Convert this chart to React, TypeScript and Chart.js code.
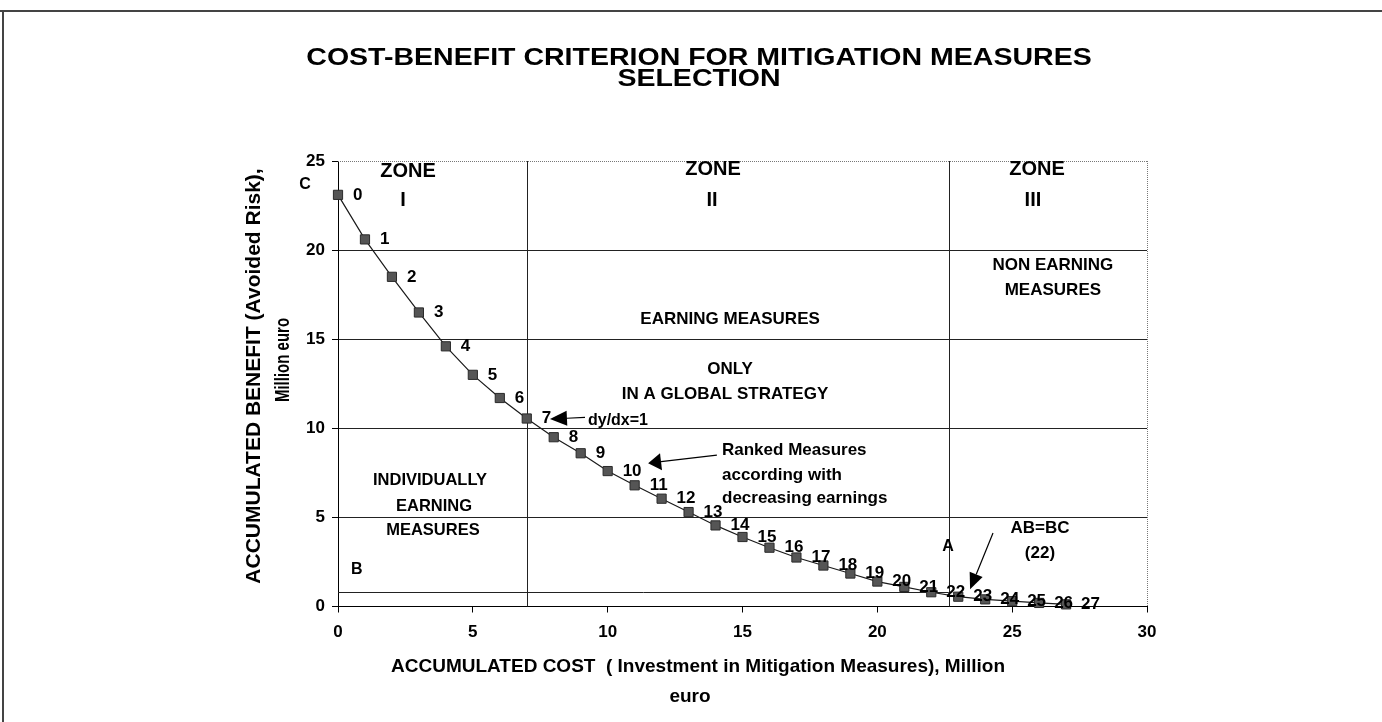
import React, { useEffect, useRef } from 'react';
import { Chart, registerables } from 'chart.js';

Chart.register(...registerables);

// ---- Data ----
const measureIds = ['0', '1', '2', '3', '4', '5', '6', '7', '8', '9', '10', '11', '12', '13', '14', '15', '16', '17', '18', '19', '20', '21', '22', '23', '24', '25', '26', '27'];
const accumulatedCost = [0, 1, 2, 3, 4, 5, 6, 7, 8, 9, 10, 11, 12, 13, 14, 15, 16, 17, 18, 19, 20, 21, 22, 23, 24, 25, 26, 27];
const accumulatedBenefit = [23.1, 20.6, 18.5, 16.5, 14.6, 13.0, 11.7, 10.55, 9.5, 8.6, 7.6, 6.8, 6.05, 5.3, 4.55, 3.9, 3.3, 2.75, 2.3, 1.85, 1.4, 1.1, 0.8, 0.55, 0.4, 0.3, 0.2, 0.12];
const xTickValues = [0, 5, 10, 15, 20, 25, 30];
const yTickValues = [0, 5, 10, 15, 20, 25];
const zoneBoundaries = [7, 22.65];
const lineBA = 0.8;

const titleLines = ['COST-BENEFIT CRITERION FOR MITIGATION MEASURES', 'SELECTION'];
const xTitleLines = ['ACCUMULATED COST  ( Investment in Mitigation Measures), Million', 'euro'];
const yTitleLines = ['ACCUMULATED BENEFIT (Avoided Risk),', 'Million euro'];

// annotation texts (data coordinates)
type Note = { text: string; x: number; y: number; size: number; align?: CanvasTextAlign };
const notes: Note[] = [
  { text: 'C', x: -1.22, y: 23.66, size: 16 },
  { text: 'B', x: 0.7, y: 2.05, size: 16 },
  { text: 'A', x: 22.62, y: 3.34, size: 16 },
  { text: 'ZONE', x: 2.6, y: 24.43, size: 20 },
  { text: 'I', x: 2.41, y: 22.8, size: 20 },
  { text: 'ZONE', x: 13.91, y: 24.55, size: 20 },
  { text: 'II', x: 13.87, y: 22.76, size: 20 },
  { text: 'ZONE', x: 25.92, y: 24.55, size: 20 },
  { text: 'III', x: 25.77, y: 22.81, size: 20 },
  { text: 'NON EARNING', x: 26.51, y: 19.16, size: 17 },
  { text: 'MEASURES', x: 26.51, y: 17.76, size: 17 },
  { text: 'EARNING MEASURES', x: 14.54, y: 16.13, size: 17 },
  { text: 'ONLY', x: 14.54, y: 13.33, size: 17 },
  { text: 'IN A GLOBAL STRATEGY', x: 14.35, y: 11.93, size: 17 },
  { text: 'dy/dx=1', x: 9.27, y: 10.41, size: 16, align: 'left' },
  { text: 'Ranked Measures', x: 14.24, y: 8.78, size: 17, align: 'left' },
  { text: 'according with', x: 14.24, y: 7.38, size: 17, align: 'left' },
  { text: 'decreasing earnings', x: 14.24, y: 6.09, size: 17, align: 'left' },
  { text: 'INDIVIDUALLY', x: 3.41, y: 7.1, size: 16.5 },
  { text: 'EARNING', x: 3.56, y: 5.64, size: 16.5 },
  { text: 'MEASURES', x: 3.52, y: 4.24, size: 16.5 },
  { text: 'AB=BC', x: 26.03, y: 4.41, size: 17 },
  { text: '(22)', x: 26.03, y: 3.0, size: 17 },
];

type Arrow = { x1: number; y1: number; x2: number; y2: number; len: number; w: number };
const arrows: Arrow[] = [
  { x1: 9.16, y1: 10.61, x2: 7.86, y2: 10.52, len: 17, w: 15 },
  { x1: 14.05, y1: 8.5, x2: 11.5, y2: 8.04, len: 13, w: 17 },
  { x1: 24.29, y1: 4.12, x2: 23.44, y2: 0.97, len: 16, w: 14 },
];

const FONT = '"Liberation Sans", Arial, Helvetica, sans-serif';

function drawArrow(ctx: CanvasRenderingContext2D, x1: number, y1: number, x2: number, y2: number, len: number, w: number) {
  const ang = Math.atan2(y2 - y1, x2 - x1);
  const bx = x2 - len * Math.cos(ang);
  const by = y2 - len * Math.sin(ang);
  ctx.beginPath();
  ctx.moveTo(x1, y1);
  ctx.lineTo(bx, by);
  ctx.stroke();
  ctx.beginPath();
  ctx.moveTo(x2, y2);
  ctx.lineTo(bx + (w / 2) * Math.sin(ang), by - (w / 2) * Math.cos(ang));
  ctx.lineTo(bx - (w / 2) * Math.sin(ang), by + (w / 2) * Math.cos(ang));
  ctx.closePath();
  ctx.fill();
}

const decorPlugin = {
  id: 'decor',
  beforeDatasetsDraw(chart: any) {
    const ctx: CanvasRenderingContext2D = chart.ctx;
    const xs = chart.scales.x;
    const ys = chart.scales.y;
    const { left, right, top, bottom } = chart.chartArea;
    ctx.save();
    // dotted frame top and right
    ctx.strokeStyle = '#777';
    ctx.lineWidth = 1;
    ctx.setLineDash([1, 1]);
    ctx.beginPath();
    ctx.moveTo(left, Math.round(top) + 0.5);
    ctx.lineTo(right, Math.round(top) + 0.5);
    ctx.moveTo(Math.round(right) + 0.5, top);
    ctx.lineTo(Math.round(right) + 0.5, bottom);
    ctx.stroke();
    ctx.setLineDash([]);
    // zone boundaries
    ctx.strokeStyle = '#222';
    ctx.beginPath();
    zoneBoundaries.forEach((v) => {
      const px = Math.round(xs.getPixelForValue(v)) + 0.5;
      ctx.moveTo(px, top);
      ctx.lineTo(px, bottom);
    });
    // B-A line
    const py = Math.round(ys.getPixelForValue(lineBA)) + 0.5;
    ctx.moveTo(left, py);
    ctx.lineTo(xs.getPixelForValue(zoneBoundaries[1]), py);
    ctx.stroke();
    ctx.restore();
  },
  afterDatasetsDraw(chart: any) {
    const ctx: CanvasRenderingContext2D = chart.ctx;
    const xs = chart.scales.x;
    const ys = chart.scales.y;
    ctx.save();
    ctx.fillStyle = '#000';
    ctx.strokeStyle = '#000';
    // data labels
    const meta = chart.getDatasetMeta(0);
    ctx.font = `bold 17px ${FONT}`;
    ctx.textAlign = 'left';
    ctx.textBaseline = 'middle';
    meta.data.forEach((pt: any, i: number) => {
      ctx.fillText(measureIds[i], pt.x + 15, pt.y);
    });
    // notes
    notes.forEach((n) => {
      ctx.font = `bold ${n.size}px ${FONT}`;
      ctx.textAlign = n.align || 'center';
      ctx.textBaseline = 'middle';
      ctx.fillText(n.text, xs.getPixelForValue(n.x), ys.getPixelForValue(n.y));
    });
    // arrows
    ctx.lineWidth = 1.2;
    arrows.forEach((a) => {
      drawArrow(ctx, xs.getPixelForValue(a.x1), ys.getPixelForValue(a.y1), xs.getPixelForValue(a.x2), ys.getPixelForValue(a.y2), a.len, a.w);
    });
    ctx.restore();

    // titles
    ctx.save();
    ctx.fillStyle = '#000';
    ctx.textAlign = 'center';
    ctx.textBaseline = 'middle';
    ctx.font = `bold 23px ${FONT}`;
    titleLines.forEach((t, i) => {
      ctx.save();
      ctx.translate(699, 59 + i * 21);
      ctx.scale(1.24, 1);
      ctx.fillText(t, 0, 0);
      ctx.restore();
    });
    // x title
    ctx.font = `bold 19px ${FONT}`;
    ctx.fillText(xTitleLines[0], 698, 667);
    ctx.fillText(xTitleLines[1], 690, 697);
    // y title
    ctx.save();
    ctx.translate(254, 376);
    ctx.rotate(-Math.PI / 2);
    ctx.font = `bold 21px ${FONT}`;
    ctx.fillText(yTitleLines[0], 0, 0);
    ctx.restore();
    ctx.save();
    ctx.translate(283, 360);
    ctx.rotate(-Math.PI / 2);
    ctx.scale(1, 1.35);
    ctx.font = `bold 15px ${FONT}`;
    ctx.fillText(yTitleLines[1], 0, 0);
    ctx.restore();
    // page frame
    ctx.fillStyle = '#444';
    ctx.fillRect(0, 10, chart.width, 2);
    ctx.fillRect(2, 10, 2, chart.height - 10);
    ctx.restore();
  },
};

export default function App() {
  const canvasRef = useRef<HTMLCanvasElement | null>(null);

  useEffect(() => {
    if (!canvasRef.current) return;
    const chart = new Chart(canvasRef.current, {
      type: 'scatter',
      data: {
        datasets: [
          {
            data: accumulatedCost.map((c, i) => ({ x: c, y: accumulatedBenefit[i] })),
            showLine: true,
            borderColor: '#1a1a1a',
            borderWidth: 1.2,
            backgroundColor: '#4d4d4d',
            pointBackgroundColor: '#555',
            pointBorderColor: '#2a2a2a',
            pointBorderWidth: 1,
            pointStyle: 'rect',
            pointRadius: 6.5,
            tension: 0,
            clip: false as any,
          },
        ],
      },
      options: {
        responsive: false,
        animation: false,
        layout: { padding: { top: 161, right: 235, left: 0, bottom: 0 } },
        plugins: { legend: { display: false }, tooltip: { enabled: false }, title: { display: false } },
        scales: {
          x: {
            type: 'linear',
            min: 0,
            max: 30,
            afterFit: (s: any) => {
              s.height = 115.5;
            },
            afterBuildTicks: (s: any) => {
              s.ticks = xTickValues.map((v) => ({ value: v }));
            },
            ticks: { color: '#000', font: { family: FONT, size: 17, weight: 'bold' }, padding: 10 },
            grid: { drawOnChartArea: false, drawTicks: true, tickLength: 6, tickColor: '#000' },
            border: { display: true, color: '#000', width: 1 },
          },
          y: {
            type: 'linear',
            min: 0,
            max: 25,
            afterFit: (s: any) => {
              s.width = 338;
            },
            afterBuildTicks: (s: any) => {
              s.ticks = yTickValues.map((v) => ({ value: v }));
            },
            ticks: { color: '#000', font: { family: FONT, size: 17, weight: 'bold' }, padding: 7 },
            grid: {
              color: (c: any) => (c.tick && (c.tick.value === 0 || c.tick.value === 25) ? 'rgba(0,0,0,0)' : '#222'),
              lineWidth: 1,
              tickLength: 6,
              tickColor: '#000',
            },
            border: { display: true, color: '#000', width: 1 },
          },
        },
      },
      plugins: [decorPlugin],
    });
    return () => chart.destroy();
  }, []);

  return (
    <div style={{ position: 'absolute', left: 0, top: 0, width: 1382, height: 722, background: '#fff' }}>
      <canvas ref={canvasRef} width={1382} height={722} style={{ display: 'block' }} />
    </div>
  );
}
